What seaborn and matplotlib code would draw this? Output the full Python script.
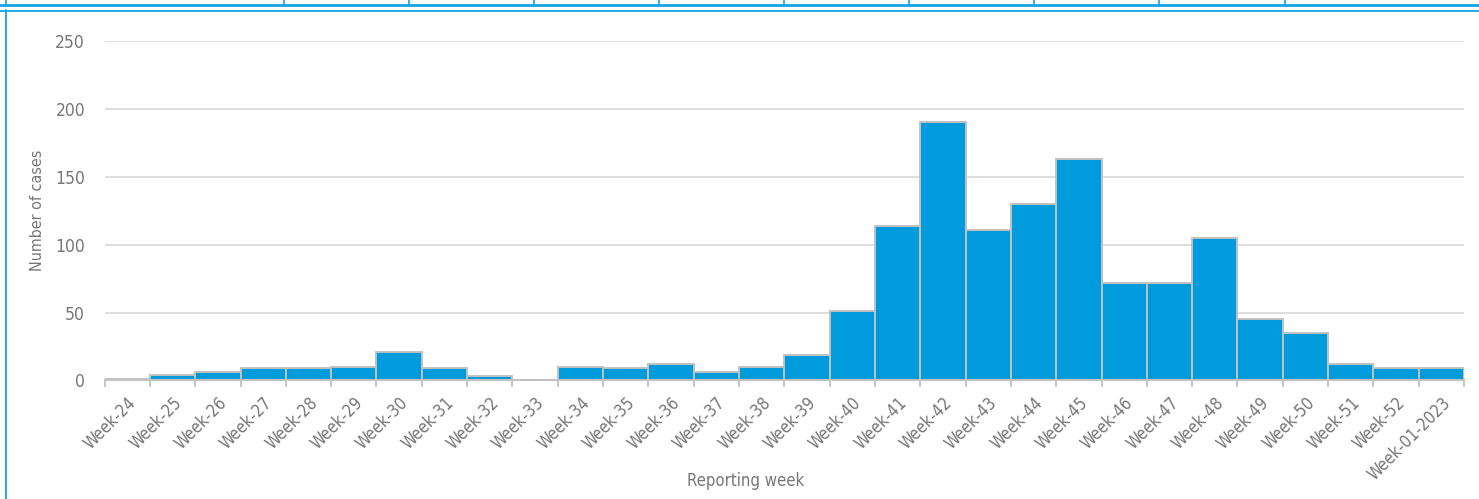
import pandas as pd
import matplotlib.pyplot as plt
import seaborn as sns
from matplotlib.lines import Line2D
from matplotlib import font_manager

# -------------------------------------------------------------
# DATA
# -------------------------------------------------------------
weeks = ['Week-24', 'Week-25', 'Week-26', 'Week-27', 'Week-28', 'Week-29',
         'Week-30', 'Week-31', 'Week-32', 'Week-33', 'Week-34', 'Week-35',
         'Week-36', 'Week-37', 'Week-38', 'Week-39', 'Week-40', 'Week-41',
         'Week-42', 'Week-43', 'Week-44', 'Week-45', 'Week-46', 'Week-47',
         'Week-48', 'Week-49', 'Week-50', 'Week-51', 'Week-52', 'Week-01-2023']
cases = [1, 4, 6, 9, 9, 10, 21, 9, 3, 0, 10, 9, 12, 6, 10, 19, 51, 114,
         190, 111, 130, 163, 72, 72, 105, 45, 35, 12, 9, 9]
y_ticks = [0, 50, 100, 150, 200, 250]

df = pd.DataFrame({'week': weeks, 'cases': cases})

# -------------------------------------------------------------
# STYLE
# -------------------------------------------------------------
sns.set_theme(style='white')
cond = [f for f in font_manager.fontManager.ttflist
        if 'condensed' in str(f.stretch).lower() or 'Narrow' in f.name
        or 'Condensed' in f.name]
plt.rcParams['font.family'] = ['DejaVu Sans']
fs = 10.5
if cond:
    plt.rcParams['font.family'] = [cond[0].name, 'DejaVu Sans']
    plt.rcParams['font.stretch'] = 'condensed'
    fs = 12

BLUE = '#009bdd'
EDGE = '#c2c2c2'
TXT = '#767676'
FRAME = '#13a3e6'

fig = plt.figure(figsize=(14.79, 4.99), dpi=100)
ax = fig.add_axes([0.0707, 0.2377, 0.9192, 0.6801])

sns.barplot(data=df, x='week', y='cases', color=BLUE, width=1.0,
            edgecolor=EDGE, linewidth=1.4, saturation=1, ax=ax)

ax.set_xlim(-0.5, len(weeks) - 0.5)
ax.set_ylim(0, 250)
ax.set_yticks(y_ticks)
ax.yaxis.grid(True, color='#dadada', linewidth=1.3)
ax.set_axisbelow(True)

for s in ['top', 'right', 'left']:
    ax.spines[s].set_visible(False)
ax.spines['bottom'].set_color(EDGE)
ax.spines['bottom'].set_linewidth(1.5)

ax.set_xticks(range(len(weeks)))
ax.set_xticklabels(weeks, rotation=45, ha='right', rotation_mode='anchor',
                   fontsize=fs, color=TXT)
ax.set_xticks([i - 0.5 for i in range(len(weeks) + 1)], minor=True)
ax.tick_params(axis='x', which='major', length=0, pad=10)
ax.tick_params(axis='x', which='minor', length=5, width=1.3, color=EDGE,
               direction='out', bottom=True)
ax.tick_params(axis='y', length=0, pad=14, labelsize=fs + 0.5, labelcolor=TXT)

ax.set_xlabel('')
ax.set_ylabel('Number of cases', fontsize=fs - 0.5, color=TXT)
ax.yaxis.set_label_coords((45 - 104.5) / 1359.5, 0.5)
fig.text(746 / 1479, 1 - 481 / 499, 'Reporting week', fontsize=fs,
         color=TXT, ha='center', va='center')

# -------------------------------------------------------------
# FRAME + TABLE ROW ABOVE
# -------------------------------------------------------------
W, H = 1479, 499
def px_line(x0, y0, x1, y1, lw, c=FRAME):
    fig.add_artist(Line2D([x0 / W, x1 / W], [1 - y0 / H, 1 - y1 / H],
                          transform=fig.transFigure, color=c, lw=lw))

px_line(0, 10.5, W, 10.5, 1.3)      # chart frame top
px_line(6, 10, 6, H, 1.3)           # chart frame left
px_line(0, 5, W, 5, 2.0)            # table row bottom
for xd in [6, 284, 409, 534, 659, 784, 909, 1034, 1159, 1285]:
    px_line(xd, 0, xd, 5, 1.2)

plt.savefig('out.png', dpi=100)
